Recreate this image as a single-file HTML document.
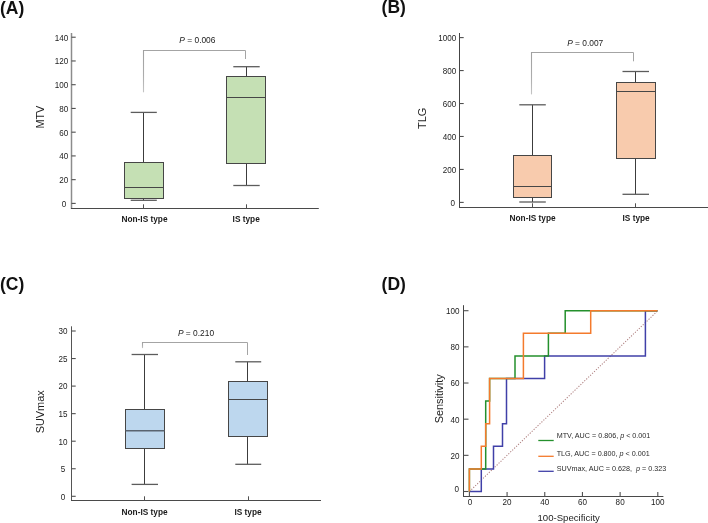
<!DOCTYPE html><html><head><meta charset="utf-8"><style>html,body{margin:0;padding:0;background:#fff;width:708px;height:523px;overflow:hidden}svg{display:block;will-change:transform}text{font-family:"Liberation Sans", sans-serif}</style></head><body>
<svg width="708" height="523" viewBox="0 0 708 523">
<text x="0" y="13.6" font-size="17.5" font-weight="bold" fill="#111" >(A)</text>
<line x1="71.5" y1="33" x2="71.5" y2="209" stroke="#8c8c8c" stroke-width="1.5" />
<line x1="71" y1="208.5" x2="318.8" y2="208.5" stroke="#4a4a4a" stroke-width="1.2" />
<line x1="71.5" y1="203.4" x2="75.7" y2="203.4" stroke="#505050" stroke-width="1.1" />
<text x="0" y="0" font-size="9.1" text-anchor="end" fill="#1c1c1c" transform="translate(66.2,206.75) scale(0.89,1)">0</text>
<line x1="71.5" y1="179.66" x2="75.7" y2="179.66" stroke="#505050" stroke-width="1.1" />
<text x="0" y="0" font-size="9.1" text-anchor="end" fill="#1c1c1c" transform="translate(68.2,183.01) scale(0.89,1)">20</text>
<line x1="71.5" y1="155.92" x2="75.7" y2="155.92" stroke="#505050" stroke-width="1.1" />
<text x="0" y="0" font-size="9.1" text-anchor="end" fill="#1c1c1c" transform="translate(68.2,159.27) scale(0.89,1)">40</text>
<line x1="71.5" y1="132.18" x2="75.7" y2="132.18" stroke="#505050" stroke-width="1.1" />
<text x="0" y="0" font-size="9.1" text-anchor="end" fill="#1c1c1c" transform="translate(68.2,135.53) scale(0.89,1)">60</text>
<line x1="71.5" y1="108.44" x2="75.7" y2="108.44" stroke="#505050" stroke-width="1.1" />
<text x="0" y="0" font-size="9.1" text-anchor="end" fill="#1c1c1c" transform="translate(68.2,111.79) scale(0.89,1)">80</text>
<line x1="71.5" y1="84.7" x2="75.7" y2="84.7" stroke="#505050" stroke-width="1.1" />
<text x="0" y="0" font-size="9.1" text-anchor="end" fill="#1c1c1c" transform="translate(68.2,88.05) scale(0.89,1)">100</text>
<line x1="71.5" y1="60.96" x2="75.7" y2="60.96" stroke="#505050" stroke-width="1.1" />
<text x="0" y="0" font-size="9.1" text-anchor="end" fill="#1c1c1c" transform="translate(68.2,64.31) scale(0.89,1)">120</text>
<line x1="71.5" y1="37.22" x2="75.7" y2="37.22" stroke="#505050" stroke-width="1.1" />
<text x="0" y="0" font-size="9.1" text-anchor="end" fill="#1c1c1c" transform="translate(68.2,40.57) scale(0.89,1)">140</text>
<line x1="143.5" y1="204.3" x2="143.5" y2="208.5" stroke="#505050" stroke-width="1.0" />
<text x="144.5" y="222" font-size="8.3" text-anchor="middle" font-weight="bold" fill="#1a1a1a" >Non-IS type</text>
<line x1="246.5" y1="204.3" x2="246.5" y2="208.5" stroke="#505050" stroke-width="1.0" />
<text x="246.2" y="222" font-size="8.3" text-anchor="middle" font-weight="bold" fill="#1a1a1a" >IS type</text>
<text x="0" y="0" font-size="10.9" text-anchor="middle" fill="#1e1e1e" transform="translate(43.6,117.1) rotate(-90)">MTV</text>
<line x1="143.5" y1="112.4" x2="143.5" y2="162.5" stroke="#3c3c3c" stroke-width="1.0" />
<line x1="143.5" y1="198.5" x2="143.5" y2="200.3" stroke="#3c3c3c" stroke-width="1.0" />
<line x1="130.7" y1="112.4" x2="156.8" y2="112.4" stroke="#5c5c5c" stroke-width="1.3" />
<line x1="130.7" y1="200.3" x2="156.8" y2="200.3" stroke="#5c5c5c" stroke-width="1.3" />
<rect x="124.5" y="162.5" width="39" height="36" fill="#c5e0b4" stroke="#464646" stroke-width="1"/>
<line x1="124.5" y1="187.5" x2="163.5" y2="187.5" stroke="#464646" stroke-width="1.0" />
<line x1="246.5" y1="66.7" x2="246.5" y2="76.5" stroke="#3c3c3c" stroke-width="1.0" />
<line x1="246.5" y1="163.5" x2="246.5" y2="185.5" stroke="#3c3c3c" stroke-width="1.0" />
<line x1="233.3" y1="66.7" x2="259.7" y2="66.7" stroke="#5c5c5c" stroke-width="1.3" />
<line x1="233.3" y1="185.5" x2="259.7" y2="185.5" stroke="#5c5c5c" stroke-width="1.3" />
<rect x="226.5" y="76.5" width="39" height="87" fill="#c5e0b4" stroke="#464646" stroke-width="1"/>
<line x1="226.5" y1="97.5" x2="265.5" y2="97.5" stroke="#464646" stroke-width="1.0" />
<linearGradient id="gA" gradientUnits="userSpaceOnUse" x1="0" y1="50.5" x2="0" y2="92.3"><stop offset="0" stop-color="#a0a0a0"/><stop offset="0.6" stop-color="#acacac"/><stop offset="1" stop-color="#c4c4c4"/></linearGradient>
<polyline points="143.5,50.5 245.5,50.5 245.5,59" fill="none" stroke="#a4a4a4" stroke-width="1"/>
<line x1="143.5" y1="50" x2="143.5" y2="92.3" stroke="url(#gA)" stroke-width="1.1"/>
<text x="197.4" y="43.3" font-size="8.4" text-anchor="middle" fill="#222"><tspan font-style="italic">P</tspan> = 0.006</text>
<text x="381.6" y="13.1" font-size="17.5" font-weight="bold" fill="#111" >(B)</text>
<line x1="459.5" y1="33" x2="459.5" y2="208" stroke="#444" stroke-width="1.0" />
<line x1="459" y1="207.5" x2="708" y2="207.5" stroke="#4a4a4a" stroke-width="1.2" />
<line x1="459.5" y1="202.4" x2="463.7" y2="202.4" stroke="#505050" stroke-width="1.1" />
<text x="0" y="0" font-size="9.1" text-anchor="end" fill="#1c1c1c" transform="translate(455,205.75) scale(0.89,1)">0</text>
<line x1="459.5" y1="169.44" x2="463.7" y2="169.44" stroke="#505050" stroke-width="1.1" />
<text x="0" y="0" font-size="9.1" text-anchor="end" fill="#1c1c1c" transform="translate(456.3,172.79) scale(0.89,1)">200</text>
<line x1="459.5" y1="136.48" x2="463.7" y2="136.48" stroke="#505050" stroke-width="1.1" />
<text x="0" y="0" font-size="9.1" text-anchor="end" fill="#1c1c1c" transform="translate(456.3,139.83) scale(0.89,1)">400</text>
<line x1="459.5" y1="103.52" x2="463.7" y2="103.52" stroke="#505050" stroke-width="1.1" />
<text x="0" y="0" font-size="9.1" text-anchor="end" fill="#1c1c1c" transform="translate(456.3,106.87) scale(0.89,1)">600</text>
<line x1="459.5" y1="70.56" x2="463.7" y2="70.56" stroke="#505050" stroke-width="1.1" />
<text x="0" y="0" font-size="9.1" text-anchor="end" fill="#1c1c1c" transform="translate(456.3,73.91) scale(0.89,1)">800</text>
<line x1="459.5" y1="37.6" x2="463.7" y2="37.6" stroke="#505050" stroke-width="1.1" />
<text x="0" y="0" font-size="9.1" text-anchor="end" fill="#1c1c1c" transform="translate(456.3,40.95) scale(0.89,1)">1000</text>
<line x1="532.5" y1="203.3" x2="532.5" y2="207.5" stroke="#505050" stroke-width="1.0" />
<text x="532.6" y="221.3" font-size="8.3" text-anchor="middle" font-weight="bold" fill="#1a1a1a" >Non-IS type</text>
<line x1="635.5" y1="203.3" x2="635.5" y2="207.5" stroke="#505050" stroke-width="1.0" />
<text x="636.1" y="221.3" font-size="8.3" text-anchor="middle" font-weight="bold" fill="#1a1a1a" >IS type</text>
<text x="0" y="0" font-size="10.9" text-anchor="middle" fill="#1e1e1e" transform="translate(426.4,118.4) rotate(-90)">TLG</text>
<line x1="532.5" y1="104.8" x2="532.5" y2="155.5" stroke="#3c3c3c" stroke-width="1.0" />
<line x1="532.5" y1="197.5" x2="532.5" y2="202" stroke="#3c3c3c" stroke-width="1.0" />
<line x1="519.3" y1="104.8" x2="545.8" y2="104.8" stroke="#5c5c5c" stroke-width="1.3" />
<line x1="519.3" y1="202" x2="545.8" y2="202" stroke="#5c5c5c" stroke-width="1.3" />
<rect x="513.5" y="155.5" width="38" height="42" fill="#f8cbad" stroke="#464646" stroke-width="1"/>
<line x1="513.5" y1="186.5" x2="551.5" y2="186.5" stroke="#464646" stroke-width="1.0" />
<line x1="635.5" y1="71.5" x2="635.5" y2="82.5" stroke="#3c3c3c" stroke-width="1.0" />
<line x1="635.5" y1="158.5" x2="635.5" y2="194.3" stroke="#3c3c3c" stroke-width="1.0" />
<line x1="622.5" y1="71.5" x2="649" y2="71.5" stroke="#5c5c5c" stroke-width="1.3" />
<line x1="622.5" y1="194.3" x2="649" y2="194.3" stroke="#5c5c5c" stroke-width="1.3" />
<rect x="616.5" y="82.5" width="39" height="76" fill="#f8cbad" stroke="#464646" stroke-width="1"/>
<line x1="616.5" y1="91.5" x2="655.5" y2="91.5" stroke="#464646" stroke-width="1.0" />
<linearGradient id="gB" gradientUnits="userSpaceOnUse" x1="0" y1="52.5" x2="0" y2="94.4"><stop offset="0" stop-color="#a0a0a0"/><stop offset="0.6" stop-color="#acacac"/><stop offset="1" stop-color="#c4c4c4"/></linearGradient>
<polyline points="531.5,52.5 633.5,52.5 633.5,61.3" fill="none" stroke="#a4a4a4" stroke-width="1"/>
<line x1="531.5" y1="52" x2="531.5" y2="94.4" stroke="url(#gB)" stroke-width="1.1"/>
<text x="585.2" y="45.7" font-size="8.4" text-anchor="middle" fill="#222"><tspan font-style="italic">P</tspan> = 0.007</text>
<text x="0" y="290.1" font-size="17.5" font-weight="bold" fill="#111" >(C)</text>
<line x1="71.5" y1="326.3" x2="71.5" y2="501" stroke="#555" stroke-width="1.0" />
<line x1="71" y1="500.5" x2="321" y2="500.5" stroke="#4a4a4a" stroke-width="1.2" />
<line x1="71.5" y1="496.3" x2="75.7" y2="496.3" stroke="#505050" stroke-width="1.1" />
<text x="0" y="0" font-size="9.1" text-anchor="end" fill="#1c1c1c" transform="translate(65.2,499.65) scale(0.89,1)">0</text>
<line x1="71.5" y1="468.75" x2="75.7" y2="468.75" stroke="#505050" stroke-width="1.1" />
<text x="0" y="0" font-size="9.1" text-anchor="end" fill="#1c1c1c" transform="translate(65.2,472.1) scale(0.89,1)">5</text>
<line x1="71.5" y1="441.2" x2="75.7" y2="441.2" stroke="#505050" stroke-width="1.1" />
<text x="0" y="0" font-size="9.1" text-anchor="end" fill="#1c1c1c" transform="translate(67.5,444.55) scale(0.89,1)">10</text>
<line x1="71.5" y1="413.65" x2="75.7" y2="413.65" stroke="#505050" stroke-width="1.1" />
<text x="0" y="0" font-size="9.1" text-anchor="end" fill="#1c1c1c" transform="translate(67.5,417) scale(0.89,1)">15</text>
<line x1="71.5" y1="386.1" x2="75.7" y2="386.1" stroke="#505050" stroke-width="1.1" />
<text x="0" y="0" font-size="9.1" text-anchor="end" fill="#1c1c1c" transform="translate(67.5,389.45) scale(0.89,1)">20</text>
<line x1="71.5" y1="358.55" x2="75.7" y2="358.55" stroke="#505050" stroke-width="1.1" />
<text x="0" y="0" font-size="9.1" text-anchor="end" fill="#1c1c1c" transform="translate(67.5,361.9) scale(0.89,1)">25</text>
<line x1="71.5" y1="331" x2="75.7" y2="331" stroke="#505050" stroke-width="1.1" />
<text x="0" y="0" font-size="9.1" text-anchor="end" fill="#1c1c1c" transform="translate(67.5,334.35) scale(0.89,1)">30</text>
<line x1="144.5" y1="496.3" x2="144.5" y2="500.5" stroke="#505050" stroke-width="1.0" />
<text x="144.6" y="514.8" font-size="8.3" text-anchor="middle" font-weight="bold" fill="#1a1a1a" >Non-IS type</text>
<line x1="248.5" y1="496.3" x2="248.5" y2="500.5" stroke="#505050" stroke-width="1.0" />
<text x="248" y="514.8" font-size="8.3" text-anchor="middle" font-weight="bold" fill="#1a1a1a" >IS type</text>
<text x="0" y="0" font-size="10.9" text-anchor="middle" fill="#1e1e1e" transform="translate(44,411.8) rotate(-90)">SUVmax</text>
<line x1="144.5" y1="354.5" x2="144.5" y2="409.5" stroke="#3c3c3c" stroke-width="1.0" />
<line x1="144.5" y1="448.5" x2="144.5" y2="484.4" stroke="#3c3c3c" stroke-width="1.0" />
<line x1="131.6" y1="354.5" x2="158" y2="354.5" stroke="#5c5c5c" stroke-width="1.3" />
<line x1="131.6" y1="484.4" x2="158" y2="484.4" stroke="#5c5c5c" stroke-width="1.3" />
<rect x="125.5" y="409.5" width="39" height="39" fill="#bdd7ee" stroke="#464646" stroke-width="1"/>
<line x1="125.5" y1="430.8" x2="164.5" y2="430.8" stroke="#5a6470" stroke-width="1.4" />
<line x1="247.5" y1="361.8" x2="247.5" y2="381.5" stroke="#3c3c3c" stroke-width="1.0" />
<line x1="247.5" y1="436.5" x2="247.5" y2="464.3" stroke="#3c3c3c" stroke-width="1.0" />
<line x1="235.3" y1="361.8" x2="261.2" y2="361.8" stroke="#5c5c5c" stroke-width="1.3" />
<line x1="235.3" y1="464.3" x2="261.2" y2="464.3" stroke="#5c5c5c" stroke-width="1.3" />
<rect x="228.5" y="381.5" width="39" height="55" fill="#bdd7ee" stroke="#464646" stroke-width="1"/>
<line x1="228.5" y1="399.5" x2="267.5" y2="399.5" stroke="#464646" stroke-width="1.0" />
<linearGradient id="gC" gradientUnits="userSpaceOnUse" x1="0" y1="342.5" x2="0" y2="348.1"><stop offset="0" stop-color="#a0a0a0"/><stop offset="0.6" stop-color="#acacac"/><stop offset="1" stop-color="#c4c4c4"/></linearGradient>
<polyline points="142.5,342.5 247.5,342.5 247.5,355" fill="none" stroke="#a4a4a4" stroke-width="1"/>
<line x1="142.5" y1="342" x2="142.5" y2="348.1" stroke="url(#gC)" stroke-width="1.1"/>
<text x="196" y="335.8" font-size="8.4" text-anchor="middle" fill="#222"><tspan font-style="italic">P</tspan> = 0.210</text>
<text x="381.6" y="289.8" font-size="17.5" font-weight="bold" fill="#111" >(D)</text>
<line x1="463.5" y1="305.2" x2="463.5" y2="497" stroke="#444" stroke-width="1.0" />
<line x1="463" y1="496.5" x2="663.4" y2="496.5" stroke="#4a4a4a" stroke-width="1.2" />
<line x1="463.5" y1="491.5" x2="468.5" y2="491.5" stroke="#505050" stroke-width="1.1" />
<text x="0" y="0" font-size="9.1" text-anchor="end" fill="#1c1c1c" transform="translate(458.9,492.15) scale(0.89,1)">0</text>
<line x1="469.4" y1="491.9" x2="469.4" y2="496.5" stroke="#505050" stroke-width="1.1" />
<text x="0" y="0" font-size="9.1" text-anchor="middle" fill="#1c1c1c" transform="translate(469.9,505) scale(0.89,1)">0</text>
<line x1="463.5" y1="455.34" x2="468.5" y2="455.34" stroke="#505050" stroke-width="1.1" />
<text x="0" y="0" font-size="9.1" text-anchor="end" fill="#1c1c1c" transform="translate(459.6,458.69) scale(0.89,1)">20</text>
<line x1="507.08" y1="491.9" x2="507.08" y2="496.5" stroke="#505050" stroke-width="1.1" />
<text x="0" y="0" font-size="9.1" text-anchor="middle" fill="#1c1c1c" transform="translate(507.08,505) scale(0.89,1)">20</text>
<line x1="463.5" y1="419.18" x2="468.5" y2="419.18" stroke="#505050" stroke-width="1.1" />
<text x="0" y="0" font-size="9.1" text-anchor="end" fill="#1c1c1c" transform="translate(459.6,422.53) scale(0.89,1)">40</text>
<line x1="544.76" y1="491.9" x2="544.76" y2="496.5" stroke="#505050" stroke-width="1.1" />
<text x="0" y="0" font-size="9.1" text-anchor="middle" fill="#1c1c1c" transform="translate(544.76,505) scale(0.89,1)">40</text>
<line x1="463.5" y1="383.02" x2="468.5" y2="383.02" stroke="#505050" stroke-width="1.1" />
<text x="0" y="0" font-size="9.1" text-anchor="end" fill="#1c1c1c" transform="translate(459.6,386.37) scale(0.89,1)">60</text>
<line x1="582.44" y1="491.9" x2="582.44" y2="496.5" stroke="#505050" stroke-width="1.1" />
<text x="0" y="0" font-size="9.1" text-anchor="middle" fill="#1c1c1c" transform="translate(582.44,505) scale(0.89,1)">60</text>
<line x1="463.5" y1="346.86" x2="468.5" y2="346.86" stroke="#505050" stroke-width="1.1" />
<text x="0" y="0" font-size="9.1" text-anchor="end" fill="#1c1c1c" transform="translate(459.6,350.21) scale(0.89,1)">80</text>
<line x1="620.12" y1="491.9" x2="620.12" y2="496.5" stroke="#505050" stroke-width="1.1" />
<text x="0" y="0" font-size="9.1" text-anchor="middle" fill="#1c1c1c" transform="translate(620.12,505) scale(0.89,1)">80</text>
<line x1="463.5" y1="310.7" x2="468.5" y2="310.7" stroke="#505050" stroke-width="1.1" />
<text x="0" y="0" font-size="9.1" text-anchor="end" fill="#1c1c1c" transform="translate(459.6,314.05) scale(0.89,1)">100</text>
<line x1="657.8" y1="491.9" x2="657.8" y2="496.5" stroke="#505050" stroke-width="1.1" />
<text x="0" y="0" font-size="9.1" text-anchor="middle" fill="#1c1c1c" transform="translate(657.8,505) scale(0.89,1)">100</text>
<text x="0" y="0" font-size="10.9" text-anchor="middle" fill="#1e1e1e" transform="translate(443.2,398.8) rotate(-90)">Sensitivity</text>
<text x="568.7" y="520.7" font-size="9.6" text-anchor="middle" fill="#1e1e1e" >100-Specificity</text>
<line x1="469.4" y1="491.5" x2="657.8" y2="310.7" stroke="#b08282" stroke-width="1.05" stroke-dasharray="1.2,1.5"/>
<polyline points="469.4,491.5 481.3,491.5 481.3,468.9 493.5,468.9 493.5,446.3 502.5,446.3 502.5,423.7 506.5,423.7 506.5,378.5 544.6,378.5 544.6,355.9 645.4,355.9 645.4,310.7 657.4,310.7" fill="none" stroke="#4040a8" stroke-width="1.5"/>
<polyline points="469.4,491.5 469.4,468.9 485.7,468.9 485.7,401.1 489.6,401.1 489.6,378.5 515,378.5 515,355.9 548.4,355.9 548.4,333.3 565.2,333.3 565.2,310.7 657.4,310.7" fill="none" stroke="#24902c" stroke-width="1.5"/>
<polyline points="469.4,491.5 469.4,468.9 481.3,468.9 481.3,446.3 485.7,446.3 485.7,423.7 489.6,423.7 489.6,378.5 523.4,378.5 523.4,333.3 590.7,333.3 590.7,310.7 657.4,310.7" fill="none" stroke="#f47a2c" stroke-width="1.5"/>
<line x1="538.3" y1="440.5" x2="553.7" y2="440.5" stroke="#24902c" stroke-width="1.3" />
<text x="556.7" y="438.1" font-size="7.2" fill="#2a2a2a" xml:space="preserve">MTV, AUC = 0.806, <tspan font-style="italic">p</tspan> &lt; 0.001</text>
<line x1="538.3" y1="456.3" x2="553.7" y2="456.3" stroke="#f47a2c" stroke-width="1.3" />
<text x="556.7" y="455.7" font-size="7.2" fill="#2a2a2a" xml:space="preserve">TLG, AUC = 0.800, <tspan font-style="italic">p</tspan> &lt; 0.001</text>
<line x1="538.3" y1="471.3" x2="553.7" y2="471.3" stroke="#4040a8" stroke-width="1.3" />
<text x="556.7" y="470.9" font-size="7.2" fill="#2a2a2a" xml:space="preserve">SUVmax, AUC = 0.628,  <tspan font-style="italic">p</tspan> = 0.323</text>
</svg></body></html>
